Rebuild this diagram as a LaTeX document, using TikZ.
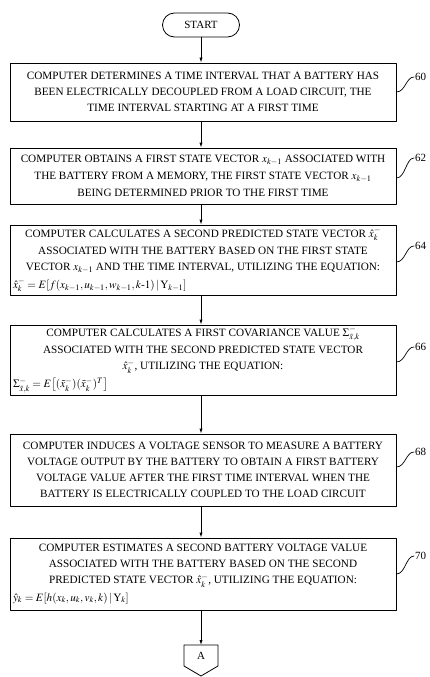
\documentclass[tikz,border=0pt]{standalone}
\usepackage{mathptmx}
\usepackage[no-math]{fontspec}
\setmainfont{Liberation Serif}
\usetikzlibrary{arrows.meta,positioning}

\begin{document}
\begin{tikzpicture}[x=1pt,y=-1pt,>={Latex[length=5pt,width=3.2pt]},line cap=round,line join=round,
  stepbox/.style={draw,line width=0.8pt,minimum width=386pt,inner sep=0pt,font=\fontsize{11.2}{16}\selectfont},
  refnum/.style={font=\fontsize{11}{13}\selectfont,inner sep=1pt,anchor=west},
  leader/.style={line width=0.7pt},
  flow/.style={->,line width=0.8pt}]
\useasboundingbox (0,0) rectangle (430,677);
\node[draw,line width=0.8pt,rounded corners=12pt,minimum width=77pt,minimum height=24pt,font=\fontsize{11}{13}\selectfont] (start) at (201,25) {START};
\node[stepbox,minimum height=58pt] (s60) at (203,92) {\parbox{380pt}{\centering
  COMPUTER DETERMINES A TIME INTERVAL THAT A BATTERY HAS\\
  BEEN ELECTRICALLY DECOUPLED FROM A LOAD CIRCUIT, THE\\
  TIME INTERVAL STARTING AT A FIRST TIME}};
\node[stepbox,minimum height=56pt] (s62) at (203,176) {\parbox{380pt}{\centering
  COMPUTER OBTAINS A FIRST STATE VECTOR $x_{k-1}$ ASSOCIATED WITH\\[1pt]
  THE BATTERY FROM A MEMORY, THE FIRST STATE VECTOR $x_{k-1}$\\[1pt]
  BEING DETERMINED PRIOR TO THE FIRST TIME}};
\node[stepbox,minimum height=70pt] (s64) at (203,260) {\parbox{380pt}{\centering
  COMPUTER CALCULATES A SECOND PREDICTED STATE VECTOR $\hat{x}_k^-$\\[1.5pt]
  ASSOCIATED WITH THE BATTERY BASED ON THE FIRST STATE\\
  VECTOR $x_{k-1}$ AND THE TIME INTERVAL, UTILIZING THE EQUATION:\par\vspace{1.5pt}
  \raggedright $\hat{x}_k^- = E[f(x_{k-1},u_{k-1},w_{k-1},k\textrm{-}1)\,|\,\mathrm{Y}_{k-1}]$}};
\node[stepbox,minimum height=70pt] (s66) at (203,360) {\parbox{380pt}{\centering
  COMPUTER CALCULATES A FIRST COVARIANCE VALUE $\Sigma^-_{\tilde{x},k}$\\[1.5pt]
  ASSOCIATED WITH THE SECOND PREDICTED STATE VECTOR\\
  $\hat{x}_k^-$, UTILIZING THE EQUATION:\par\vspace{2pt}
  \raggedright $\Sigma^-_{\tilde{x},k} = E\bigl[(\tilde{x}_k^-)(\tilde{x}_k^-)^T\bigr]$}};
\node[stepbox,minimum height=72pt] (s68) at (203,470) {\parbox{380pt}{\centering
  COMPUTER INDUCES A VOLTAGE SENSOR TO MEASURE A BATTERY\\
  VOLTAGE OUTPUT BY THE BATTERY TO OBTAIN A FIRST BATTERY\\
  VOLTAGE VALUE AFTER THE FIRST TIME INTERVAL WHEN THE\\
  BATTERY IS ELECTRICALLY COUPLED TO THE LOAD CIRCUIT}};
\node[stepbox,minimum height=72pt] (s70) at (203,574) {\parbox{380pt}{\centering
  COMPUTER ESTIMATES A SECOND BATTERY VOLTAGE VALUE\\
  ASSOCIATED WITH THE BATTERY BASED ON THE SECOND\\
  PREDICTED STATE VECTOR $\hat{x}_k^-$, UTILIZING THE EQUATION:\par\vspace{1.5pt}
  \raggedright $\hat{y}_k = E[h(x_k,u_k,v_k,k)\,|\,\mathrm{Y}_k]$}};
% off-page connector
\coordinate (atop) at (201,645);
\node[font=\fontsize{11}{13}\selectfont] (conA) at (201,656) {A};
\draw[line width=0.8pt] (184,645) -- (218,645) -- (218,666) -- (201,676) -- (184,666) -- cycle;
% flow arrows
\draw[flow] (start) -- (s60.north -| start);
\draw[flow] (s60.south -| start) -- (s62.north -| start);
\draw[flow] (s62.south -| start) -- (s64.north -| start);
\draw[flow] (s64.south -| start) -- (s66.north -| start);
\draw[flow] (s66.south -| start) -- (s68.north -| start);
\draw[flow] (s68.south -| start) -- (s70.north -| start);
\draw[flow] (s70.south -| start) -- (atop);
% reference numerals
\node[refnum] (n60) at (414,77) {60};
\node[refnum] (n62) at (414,158) {62};
\node[refnum] (n64) at (414,246) {64};
\node[refnum] (n66) at (414,347) {66};
\node[refnum] (n68) at (414,452) {68};
\node[refnum] (n70) at (414,556) {70};
\draw[leader] (s60.east) .. controls +(9,0) and +(-8,0) .. (n60.west);
\draw[leader] ([yshift=-2pt]s62.east) .. controls +(9,0) and +(-8,0) .. (n62.west);
\draw[leader] ([yshift=-2pt]s64.east) .. controls +(9,0) and +(-8,0) .. (n64.west);
\draw[leader] ([yshift=-2pt]s66.east) .. controls +(9,0) and +(-8,0) .. (n66.west);
\draw[leader] ([yshift=3pt]s68.east) .. controls +(9,0) and +(-8,0) .. (n68.west);
\draw[leader] (s70.east) .. controls +(9,0) and +(-8,0) .. (n70.west);
\end{tikzpicture}
\end{document}
